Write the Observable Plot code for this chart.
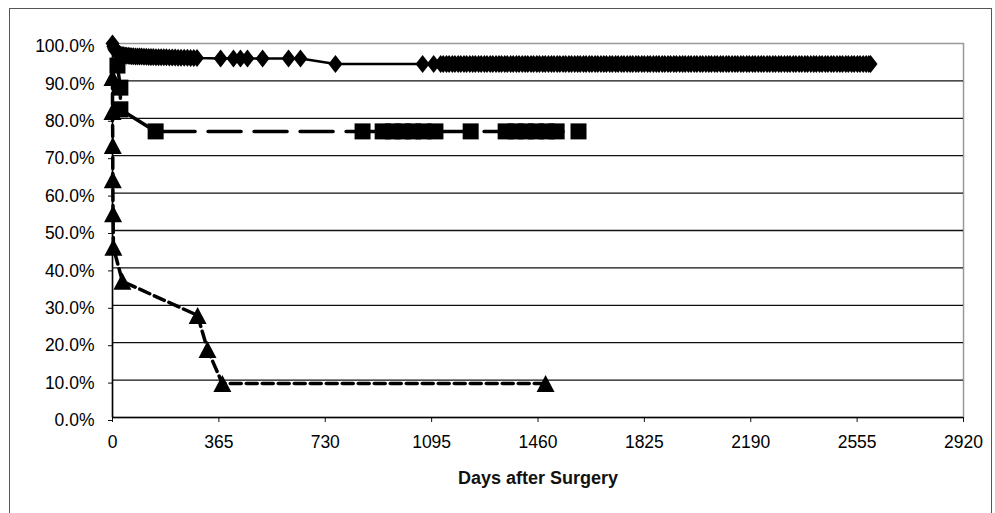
<!DOCTYPE html>
<html>
<head>
<meta charset="utf-8">
<script src="https://cdn.jsdelivr.net/npm/d3@7"></script>
<script src="https://cdn.jsdelivr.net/npm/@observablehq/plot@0.6"></script>
<style>
  html, body { margin: 0; padding: 0; background: #fff; overflow: hidden; }
  #wrap { position: relative; width: 995px; height: 513px; }
  #border { position: absolute; left: 9px; top: 8px; width: 983px; height: 600px; border: 1px solid #555; box-sizing: border-box; pointer-events: none; }
  #chart { position: absolute; left: 0; top: 0; }
</style>
</head>
<body>
<div id="wrap">
  <div id="chart"></div>
  <div id="border"></div>
</div>
<script>
// ---- data ----
const xTicks = [0, 365, 730, 1095, 1460, 1825, 2190, 2555, 2920];
const yTicks = [0, 10, 20, 30, 40, 50, 60, 70, 80, 90, 100];
const gridValues = [10, 20, 30, 40, 50, 60, 70, 80, 90];
const xTitle = "Days after Surgery";

// series 1: diamonds, solid line (early events and censored points)
const diamondDays = [0, 3, 6, 9, 12, 16, 20, 24, 28, 33, 38, 43, 48, 54, 60, 66, 72, 79, 86, 93, 100, 108,
  116, 124, 132, 140, 149, 158, 167, 176, 185, 195, 205, 215, 225, 235, 246, 257, 268, 279, 290,
  371, 415, 439, 463, 515, 604, 645, 765, 1064, 1102];
const diamondSurv = [100, 99.2, 98.6, 98.2, 97.9, 97.6, 97.4, 97.2, 97.0, 96.9, 96.85, 96.8, 96.75, 96.7,
  96.65, 96.6, 96.6, 96.55, 96.55, 96.5, 96.5, 96.45, 96.45, 96.4, 96.4, 96.4, 96.35, 96.35, 96.3, 96.3,
  96.3, 96.25, 96.25, 96.25, 96.2, 96.2, 96.2, 96.2, 96.15, 96.15, 96.1,
  96.0, 96.0, 96.0, 96.0, 96.0, 96.0, 96.0, 94.5, 94.5, 94.5];
// series 1: densely packed censored points on the final plateau
const plateauSurv = 94.5;
const plateauDays = [1126, 1135, 1146, 1155, 1166, 1175, 1186, 1195, 1206, 1215, 1226, 1236, 1245, 1256,
  1265, 1276, 1285, 1296, 1305, 1316, 1326, 1335, 1346, 1355, 1366, 1375, 1386, 1395, 1406, 1416, 1425,
  1436, 1445, 1456, 1465, 1476, 1485, 1496, 1506, 1515, 1526, 1535, 1546, 1555, 1566, 1575, 1586, 1596,
  1605, 1616, 1625, 1636, 1645, 1656, 1665, 1676, 1686, 1695, 1706, 1715, 1726, 1735, 1746, 1755, 1766,
  1776, 1785, 1796, 1805, 1816, 1825, 1836, 1845, 1856, 1866, 1875, 1886, 1895, 1906, 1915, 1926, 1935,
  1946, 1956, 1965, 1976, 1985, 1996, 2005, 2016, 2025, 2036, 2046, 2055, 2066, 2075, 2086, 2095, 2106,
  2115, 2126, 2136, 2145, 2156, 2165, 2176, 2185, 2196, 2205, 2216, 2226, 2235, 2246, 2255, 2266, 2275,
  2286, 2295, 2306, 2316, 2325, 2336, 2345, 2356, 2365, 2376, 2385, 2396, 2406, 2415, 2426, 2435, 2446,
  2455, 2466, 2475, 2486, 2496, 2505, 2516, 2525, 2536, 2545, 2556, 2565, 2576, 2586, 2595, 2601];

// series 2: squares, long-dashed line
const squareDays = [17, 27, 27, 148, 858, 927, 962, 996, 1031, 1067, 1108, 1229, 1349, 1383, 1418, 1453, 1490, 1524, 1599];
const squareSurv = [94.1, 88.2, 82.4, 76.5, 76.5, 76.5, 76.5, 76.5, 76.5, 76.5, 76.5, 76.5, 76.5, 76.5, 76.5, 76.5, 76.5, 76.5, 76.5];

// series 3: triangles, short-dashed line
const triangleDays = [0, 0, 1, 1, 2, 3, 34, 292, 326, 377, 1486];
const triangleSurv = [90.9, 81.8, 72.7, 63.6, 54.5, 45.5, 36.4, 27.3, 18.2, 9.1, 9.1];

const diamonds = diamondDays.map((d, i) => ({day: d, surv: diamondSurv[i]}))
  .concat(plateauDays.map(d => ({day: d, surv: plateauSurv})));
const squares = squareDays.map((d, i) => ({day: d, surv: squareSurv[i]}));
const triangles = triangleDays.map((d, i) => ({day: d, surv: triangleSurv[i]}));

// Excel-like marker shapes (centered on their bounding box)
const diamondSym = {draw(ctx) { ctx.moveTo(0, -9); ctx.lineTo(7, 0); ctx.lineTo(0, 9); ctx.lineTo(-7, 0); ctx.closePath(); }};
const squareSym = {draw(ctx) { ctx.moveTo(-8, -8); ctx.lineTo(8, -8); ctx.lineTo(8, 8); ctx.lineTo(-8, 8); ctx.closePath(); }};
const triangleSym = {draw(ctx) { ctx.moveTo(0, -8.5); ctx.lineTo(9, 8.5); ctx.lineTo(-9, 8.5); ctx.closePath(); }};

const chart = Plot.plot({
  width: 995,
  height: 513,
  marginLeft: 112,
  marginRight: 32,
  marginTop: 43,
  marginBottom: 96,
  style: {fontFamily: "'Liberation Sans', Arial, sans-serif", fontSize: "17.5px", color: "#000", background: "transparent"},
  x: {domain: [0, 2920]},
  y: {domain: [0, 100]},
  marks: [
    Plot.frame({stroke: "#999", strokeWidth: 1.5}),
    Plot.ruleY(gridValues, {stroke: "#111", strokeWidth: 1.3}),
    Plot.axisY({ticks: yTicks, tickFormat: d => d.toFixed(1) + "%", tickSize: 4, tickPadding: 14, label: null, dy: 3, stroke: "#111"}),
    Plot.axisX({ticks: xTicks, tickFormat: d => String(d), tickSize: 5, tickPadding: 13, label: null, stroke: "#111"}),
    Plot.ruleX([0], {stroke: "#000", strokeWidth: 1.5}),
    Plot.ruleY([0], {stroke: "#000", strokeWidth: 1.5}),
    Plot.line(diamonds, {x: "day", y: "surv", stroke: "#000", strokeWidth: 2.5}),
    Plot.line(squares, {x: "day", y: "surv", stroke: "#000", strokeWidth: 3.5, strokeDasharray: "33,13"}),
    Plot.line(triangles, {x: "day", y: "surv", stroke: "#000", strokeWidth: 3.5, strokeDasharray: "11,5"}),
    Plot.dot(diamonds, {x: "day", y: "surv", symbol: diamondSym, fill: "#000", stroke: "none"}),
    Plot.dot(squares, {x: "day", y: "surv", symbol: squareSym, fill: "#000", stroke: "none"}),
    Plot.dot(triangles, {x: "day", y: "surv", symbol: triangleSym, fill: "#000", stroke: "none"}),
    Plot.text([xTitle], {frameAnchor: "bottom", dy: 66, fontWeight: "bold", fontSize: 18, fill: "#111"})
  ]
});
document.getElementById("chart").appendChild(chart);
</script>
</body>
</html>
